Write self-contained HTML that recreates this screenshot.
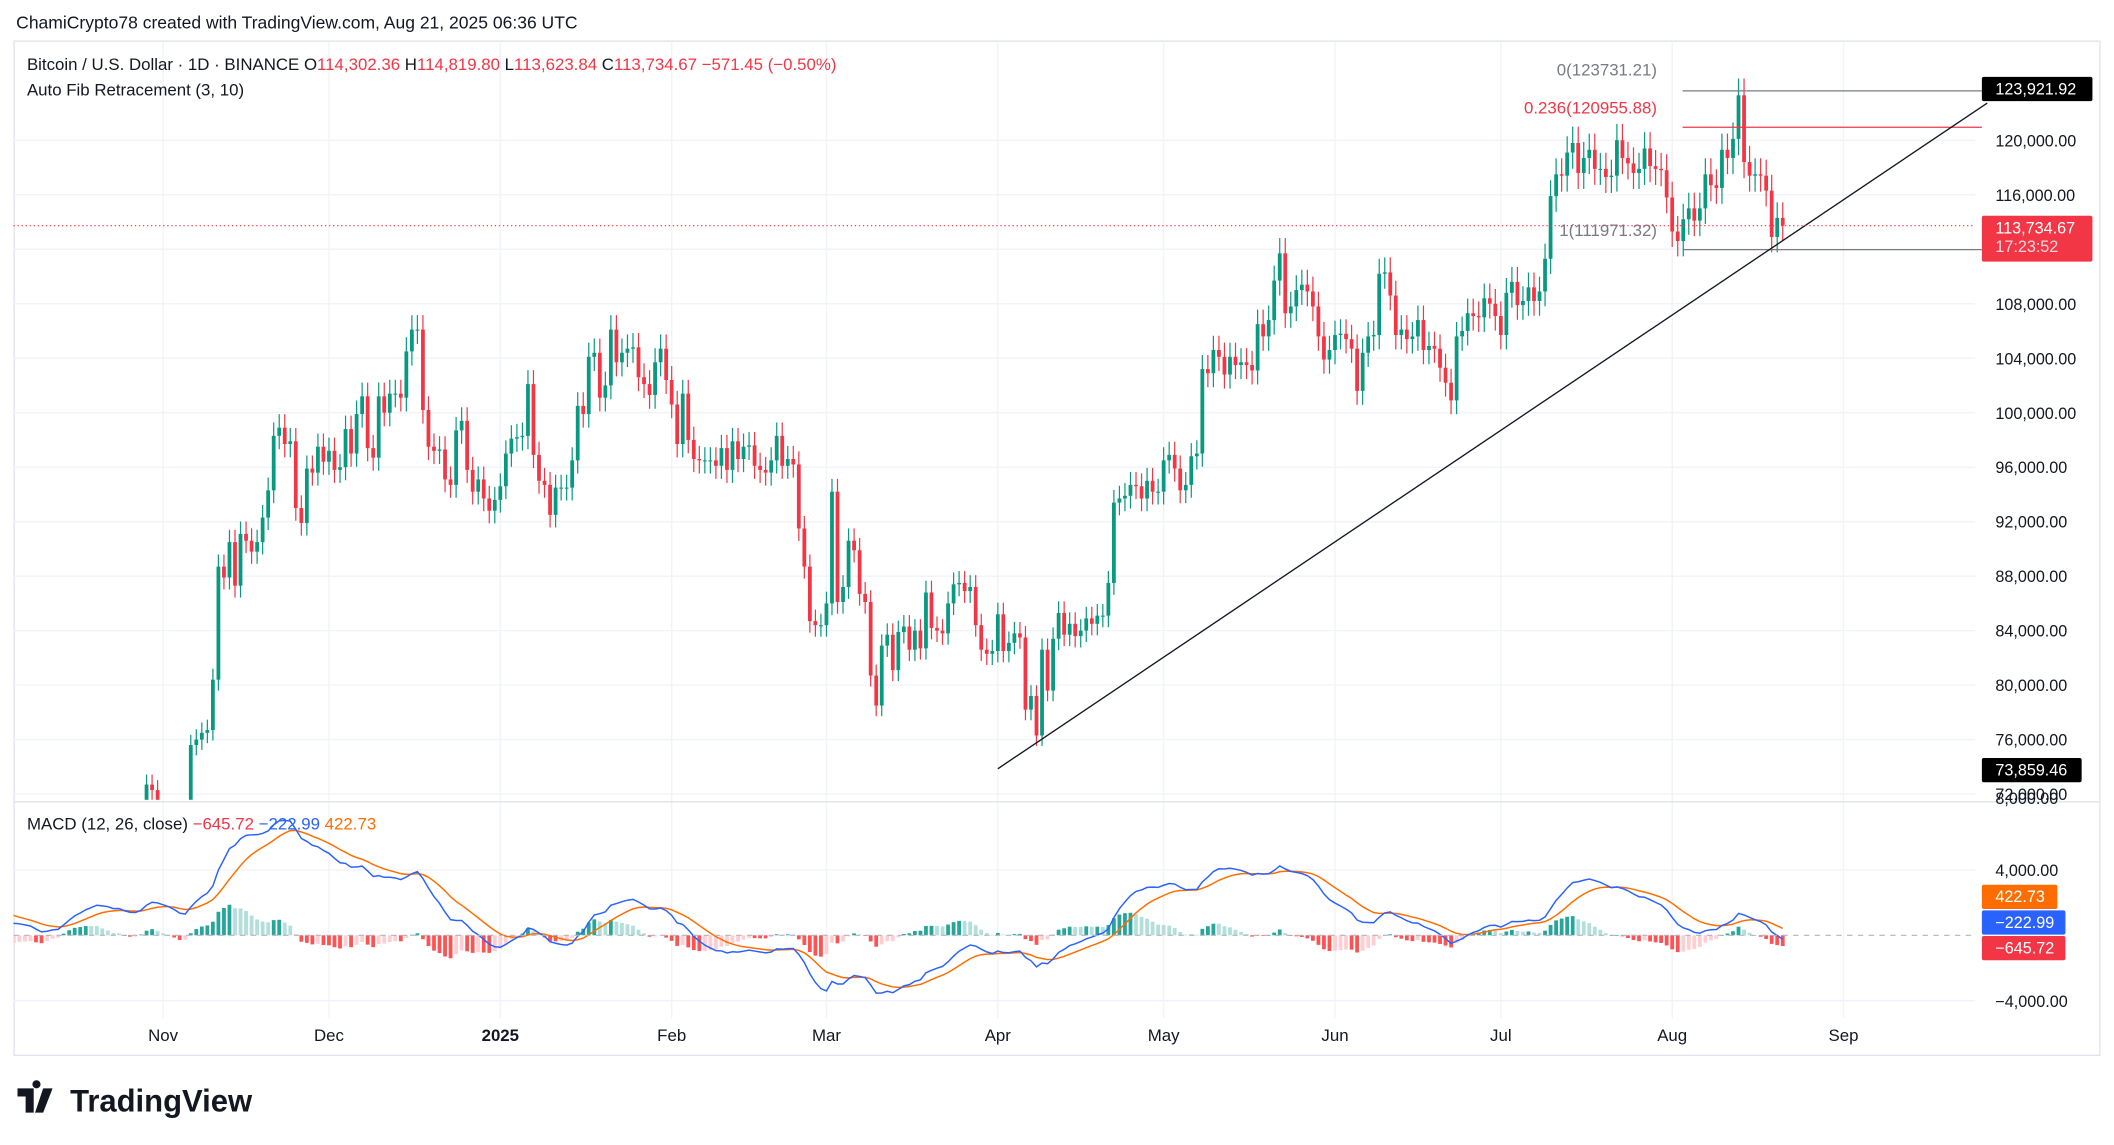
<!DOCTYPE html>
<html><head><meta charset="utf-8"><style>
html,body{margin:0;padding:0;background:#fff;}
svg{display:block;font-family:"Liberation Sans",sans-serif;}
</style></head><body>
<svg id="chart" width="2114" height="1145" viewBox="0 0 1568 849" preserveAspectRatio="none" xmlns="http://www.w3.org/2000/svg">
<defs>
<clipPath id="pclip"><rect x="10" y="31" width="1455" height="562"/></clipPath>
<clipPath id="mclip"><rect x="10" y="596" width="1455" height="158"/></clipPath>
</defs>
<rect x="0" y="0" width="1568" height="849" fill="#fff"/>
<text x="12" y="21" font-size="13" fill="#131722">ChamiCrypto78 created with TradingView.com, Aug 21, 2025 06:36 UTC</text>
<rect x="10.5" y="30.5" width="1547" height="752" fill="none" stroke="#e0e3eb"/>
<g id="grid"></g>
<line x1="10" y1="594.5" x2="1557" y2="594.5" stroke="#e0e3eb"/>
<g id="candles" clip-path="url(#pclip)"></g>
<g id="fib"></g>
<g id="macd" clip-path="url(#mclip)"></g>
<g id="axes"></g>
<text x="20" y="52" font-size="12.5" fill="#131722">Bitcoin / U.S. Dollar · 1D · BINANCE  O<tspan fill="#f23645">114,302.36</tspan>  H<tspan fill="#f23645">114,819.80</tspan>  L<tspan fill="#f23645">113,623.84</tspan>  C<tspan fill="#f23645">113,734.67  −571.45 (−0.50%)</tspan></text>
<text x="20" y="71" font-size="12.5" fill="#131722">Auto Fib Retracement (3, 10)</text>
<text x="20" y="615" font-size="12.5" fill="#131722">MACD (12, 26, close)  <tspan fill="#f23645">−645.72</tspan>  <tspan fill="#2962ff">−222.99</tspan>  <tspan fill="#ff6d00">422.73</tspan></text>
<g>
<path d="M13 807h12v18h-6v-12h-6z M27 807a3 3 0 1 1 0.1 0z M32 807h7l-7 18h-6z" fill="#131722"/>
<text x="52" y="824" font-size="23" font-weight="bold" fill="#131722">TradingView</text>
</g>
</svg>
<script>
// Daily closes (thousands USD) from 2024-09-01 to 2025-08-21
const startDay = -61; // 2024-09-01 relative to 2024-11-01
const closes = [
57.3,59.1,57.5,58.0,56.2,54.0,54.8,54.9,57.0,57.6,57.3,58.1,60.5,60.0,59.2,58.2,60.3,61.8,63.0,63.2,63.3,63.6,63.3,64.3,63.1,65.2,65.8,65.6,65.6,63.3,
60.8,60.6,60.8,62.1,62.1,62.8,62.2,62.2,60.6,60.3,62.5,63.2,62.9,66.0,67.0,67.6,67.4,68.4,68.4,69.0,67.4,67.4,66.7,68.2,66.6,67.0,68.0,70.0,72.7,72.3,70.2,
69.5,69.4,68.7,67.8,69.4,75.6,76.0,76.5,76.7,80.4,88.7,87.9,90.5,87.3,91.1,90.6,89.8,90.5,92.3,94.3,98.3,98.9,97.7,97.9,93.0,91.9,95.9,95.6,97.5,96.4,
97.2,95.8,96.0,98.8,97.0,99.9,101.2,97.4,96.7,101.2,100.0,101.4,101.4,101.1,104.5,106.1,106.1,100.2,97.5,97.2,97.3,95.1,94.7,98.7,99.4,95.8,94.2,95.1,93.7,92.8,93.6,
94.6,97.0,98.1,98.2,98.3,102.1,96.9,95.0,94.7,92.5,94.5,94.5,94.5,96.5,100.5,99.9,104.1,104.4,101.1,102.0,106.1,103.7,104.4,104.7,104.8,102.6,102.1,101.3,103.7,104.7,102.4,
100.6,97.7,101.4,98.0,96.6,96.5,96.5,96.5,96.1,97.4,95.8,97.9,96.6,97.5,97.6,96.1,95.8,95.6,96.5,98.3,96.1,96.6,96.2,91.5,88.7,84.7,84.4,84.4,
86.0,94.2,86.1,87.2,90.6,89.9,86.7,86.1,80.7,78.5,82.9,83.7,81.1,83.9,84.3,82.6,84.0,82.7,86.8,84.2,84.0,83.8,86.0,87.4,87.5,86.9,87.2,84.4,82.6,82.3,82.5,
85.2,82.5,83.1,83.8,83.5,78.2,79.2,76.3,82.6,79.6,83.4,85.3,83.7,84.5,83.6,84.0,84.9,84.5,85.1,85.1,87.5,93.4,93.7,93.9,94.7,94.6,93.7,95.0,94.2,94.2,
96.5,96.9,95.9,94.3,94.7,96.8,97.0,103.2,102.9,104.6,104.1,102.8,104.1,103.5,103.7,103.5,103.1,106.5,105.6,106.8,109.7,111.7,107.3,107.8,109.0,109.4,108.9,107.8,105.6,103.9,104.6,
105.7,105.8,105.4,104.7,101.6,104.4,105.6,105.7,110.2,110.3,108.6,105.7,106.1,105.4,105.6,106.8,104.6,104.9,104.7,103.3,102.2,100.9,105.6,106.0,107.3,107.1,107.0,108.4,108.0,107.1,
105.7,108.8,109.6,107.9,108.2,109.2,108.2,108.9,111.3,115.9,117.5,117.4,119.1,119.8,117.6,118.7,119.3,117.9,117.9,117.3,117.4,120.0,118.7,118.3,117.6,117.9,119.4,118.1,117.9,117.8,115.8,
113.3,112.6,114.2,115.0,114.1,115.0,117.5,116.7,116.5,119.3,118.7,120.1,123.3,118.4,117.4,117.5,117.4,116.3,112.9,114.3,113.73
];
const priceTicks = [120000,116000,112000,108000,104000,100000,96000,92000,88000,84000,80000,76000,72000];
const macdTicks = [8000,4000,-4000];
const monthLabels = ["Nov","Dec","2025","Feb","Mar","Apr","May","Jun","Jul","Aug","Sep"];
const monthDays = [0,30,61,92,120,151,181,212,242,273,304];
const fibLevels = [123731.21,120955.88,111971.32];
const fibNames = ["0","0.236","1"];
const trendPrices = [73859.46,123921.92];
const trendDays = [151,330];

const NS="http://www.w3.org/2000/svg";
function X(d){return 121+d*4.1;}
function Y(p){return 104-(p-120000)*0.0101;}
function MY(v){return 693.5-v*0.012125;}
function mk(tag,attrs,parent,txt){const e=document.createElementNS(NS,tag);for(const k in attrs)e.setAttribute(k,attrs[k]);if(txt!==undefined)e.textContent=txt;parent.appendChild(e);return e;}
const grid=document.getElementById('grid'),cg=document.getElementById('candles'),mg=document.getElementById('macd'),ax=document.getElementById('axes'),fg=document.getElementById('fib');

priceTicks.forEach(p=>{
  const l=mk('line',{x1:10,x2:1465,y1:Y(p),y2:Y(p),stroke:'#f0f3fa'},grid);
  
  
  const t=mk('text',{x:1480,y:Y(p)+4.5,'font-size':12,fill:'#131722'},ax,p.toLocaleString('en-US',{minimumFractionDigits:2}));
  
  
});
macdTicks.forEach(v=>{
  const y=MY(v);
  if(v!==8000){const l=mk('line',{x1:10,x2:1465,y1:y,y2:y,stroke:'#f0f3fa'},grid);
  
  }
  const t=mk('text',{x:1480,y:(v===8000?596:y+4.5),'font-size':12,fill:'#131722'},ax,(v<0?'−':'')+Math.abs(v).toLocaleString('en-US',{minimumFractionDigits:2}));
  
  
});
monthLabels.forEach((m,i)=>{
  const x=X(monthDays[i]);
  const l=mk('line',{x1:x,x2:x,y1:31,y2:755,stroke:'#f0f3fa'},grid);
  
  
  const t=mk('text',{x:x,y:772,'font-size':12.5,fill:'#131722','text-anchor':'middle','font-weight':m==='2025'?'bold':'normal'},ax,m);
  
  
});

// candles
for(let i=1;i<closes.length;i++){
  const d=startDay+i, x=X(d);
  const o=closes[i-1]*1000,c=closes[i]*1000;
  const up=c>=o, col=up?'#089981':'#f23645';
  const hi=Math.max(o,c)*1.01, lo=Math.min(o,c)*0.99;
  const w=mk('line',{x1:x,x2:x,y1:Y(hi),y2:Y(lo),stroke:col,'stroke-width':0.9},cg);
  
  
  const top=Y(Math.max(o,c)),h=Math.max(0.8,Y(Math.min(o,c))-top);
  const b=mk('rect',{x:x-1.4,y:top,width:2.8,height:h,fill:col},cg);
  
  
}

// current price dotted line
const lastP=closes[closes.length-1]*1000;
const cp=mk('line',{x1:10,x2:1465,y1:Y(lastP),y2:Y(lastP),stroke:'#f23645','stroke-dasharray':'1 2','stroke-width':0.8},ax);



// fib lines
const fibCols=['#787b86','#f23645','#787b86'];
fibLevels.forEach((p,i)=>{
  const y=(i===0?Y(trendPrices[1])+3:Y(p));
  const l=mk('line',{x1:1248,x2:1470,y1:y,y2:y,stroke:fibCols[i],'stroke-width':0.9},fg);
  
  
  const ty=[56,84,175][i], tx=[1229,1229,1229][i];
  const t=mk('text',{x:tx,y:ty,'font-size':12.5,fill:fibCols[i],'text-anchor':'end'},fg,fibNames[i]+'('+p.toLocaleString('en-US',{minimumFractionDigits:2,useGrouping:false})+')');
  
  
});
const tl=mk('line',{x1:X(trendDays[0]),y1:Y(trendPrices[0]),x2:X(trendDays[1]),y2:Y(trendPrices[1])+12,stroke:'#131722','stroke-width':1},fg);



// price axis badges
function badge(y,h,w,col,lines,name){
  const g=mk('g',{},ax);
  
  
  mk('rect',{x:1470,y:y,width:w,height:h,fill:col,rx:1.5},g);
  lines.forEach((s,k)=>mk('text',{x:1480,y:y+13+k*14,'font-size':12,fill:k?'#ffd6da':'#fff'},g,s));
}
badge(57,18,82,'#000',['123,921.92'],'high-price-badge');
badge(160,34,82,'#f23645',['113,734.67','17:23:52'],'last-price-badge');
badge(562,18,74,'#000',['73,859.46'],'low-price-badge');

// MACD
function ema(arr,n){const k=2/(n+1);const out=[];let e=arr[0];arr.forEach((v,i)=>{e=i?v*k+e*(1-k):v;out.push(e);});return out;}
const cl=closes.map(c=>c*1000);
const e12=ema(cl,12),e26=ema(cl,26);
const macdLine=e12.map((v,i)=>v-e26[i]);
const sig=ema(macdLine,9);
const hist=macdLine.map((v,i)=>v-sig[i]);
const z=mk('line',{x1:10,x2:1465,y1:MY(0),y2:MY(0),stroke:'#b2b5be','stroke-dasharray':'4 4','stroke-width':0.8},ax);


for(let i=1;i<hist.length;i++){
  const h=hist[i],p=hist[i-1];
  const col=h>=0?(h>=p?'#26a69a':'#b2dfdb'):(h<p?'#ff5252':'#ffcdd2');
  const y0=MY(0),y1=MY(h);
  const r=mk('rect',{x:X(startDay+i)-1.4,y:Math.min(y0,y1),width:2.8,height:Math.max(0.5,Math.abs(y1-y0)),fill:col},mg);
  
  
}
function pl(arr,col,name){
  const pts=arr.map((v,i)=>X(startDay+i).toFixed(1)+','+MY(v).toFixed(1)).join(' ');
  const e=mk('polyline',{points:pts,fill:'none',stroke:col,'stroke-width':1.1},mg);
  
  
}
pl(sig,'#ff6d00','macd-signal-line');
pl(macdLine,'#2962ff','macd-line');
badge(656,18,56,'#ff6d00',['422.73'],'signal-value-badge');
badge(675,18,62,'#2962ff',['−222.99'],'macd-value-badge');
badge(694,18,62,'#f23645',['−645.72'],'histogram-value-badge');
</script>
</body></html>
